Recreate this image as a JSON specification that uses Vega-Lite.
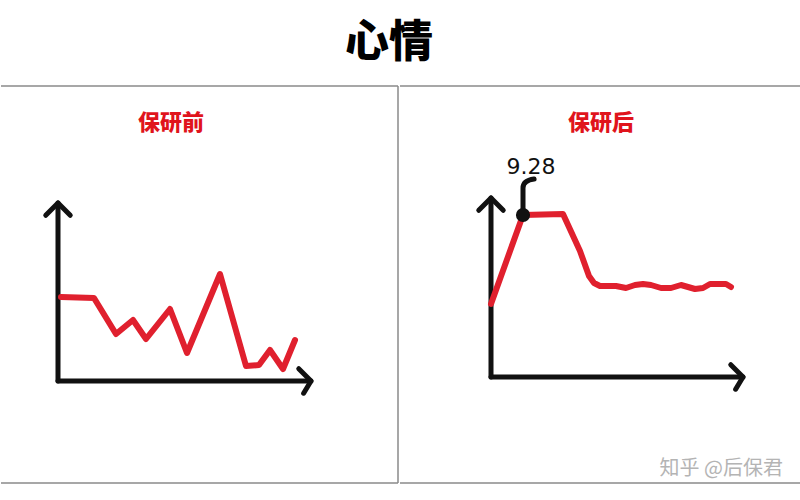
{
  "$schema": "https://vega.github.io/schema/vega-lite/v6.json",
  "background": "white",
  "padding": {"left": 0, "right": 0, "top": 22, "bottom": 0},
  "spacing": 0,
  "config": {"view": {"stroke": null}, "font": "Noto Sans CJK SC"},
  "title": {"text": "心情", "fontSize": 44, "fontWeight": 900, "color": "#000000", "font": "Noto Sans CJK SC", "anchor": "middle", "dx": -13, "offset": 19},
  "data": {"values": [{}]},
  "datasets": {
    "before": [
      {"t": 0.15, "mood": 4.2},
      {"t": 1.8, "mood": 4.15},
      {"t": 2.9, "mood": 2.35},
      {"t": 3.75, "mood": 3.05},
      {"t": 4.4, "mood": 2.1},
      {"t": 5.6, "mood": 3.6},
      {"t": 6.45, "mood": 1.4},
      {"t": 8.1, "mood": 5.35},
      {"t": 9.4, "mood": 0.75},
      {"t": 10.05, "mood": 0.8},
      {"t": 10.6, "mood": 1.55},
      {"t": 11.25, "mood": 0.6},
      {"t": 11.85, "mood": 2.05}
    ],
    "after": [
      {"t": 0, "mood": 3.65},
      {"t": 1.6, "mood": 8.1},
      {"t": 3.6, "mood": 8.15},
      {"t": 4.45, "mood": 6.3},
      {"t": 4.9, "mood": 5.05},
      {"t": 5.15, "mood": 4.7},
      {"t": 5.45, "mood": 4.55},
      {"t": 6.25, "mood": 4.55},
      {"t": 6.75, "mood": 4.45},
      {"t": 7.2, "mood": 4.6},
      {"t": 7.6, "mood": 4.65},
      {"t": 8.0, "mood": 4.6},
      {"t": 8.5, "mood": 4.45},
      {"t": 9.0, "mood": 4.45},
      {"t": 9.5, "mood": 4.6},
      {"t": 9.85, "mood": 4.5},
      {"t": 10.2, "mood": 4.4},
      {"t": 10.6, "mood": 4.45},
      {"t": 10.95, "mood": 4.65},
      {"t": 11.25, "mood": 4.65},
      {"t": 11.75, "mood": 4.65},
      {"t": 12.0, "mood": 4.5}
    ],
    "peak": [
      {"t": 1.6, "mood": 8.1, "label": "9.28"}
    ]
  },
  "hconcat": [
    {
      "width": 397,
      "height": 397,
      "layer": [
        {"mark": {"type": "rule", "color": "#8a8a8a", "strokeWidth": 1.5},
         "encoding": {"y": {"datum": 14.75, "scale": {"domain": [-5.1, 14.75], "nice": false, "zero": false}, "axis": null}}},
        {"mark": {"type": "rule", "color": "#8a8a8a", "strokeWidth": 1.5},
         "encoding": {"y": {"datum": -5.1, "scale": {"domain": [-5.1, 14.75], "nice": false, "zero": false}, "axis": null}}},
        {"mark": {"type": "rule", "color": "#8a8a8a", "strokeWidth": 1.5},
         "encoding": {"x": {"datum": 17.0, "scale": {"domain": [-2.85, 17.0], "nice": false, "zero": false}, "axis": null}}},
        {"mark": {"type": "rule", "color": "#111111", "strokeWidth": 5, "strokeCap": "round"},
         "encoding": {
           "x": {"datum": 0, "scale": {"domain": [-2.85, 17.0], "nice": false, "zero": false}, "axis": null},
           "x2": {"datum": 12.65},
           "y": {"datum": 0, "scale": {"domain": [-5.1, 14.75], "nice": false, "zero": false}, "axis": null}}},
        {"mark": {"type": "rule", "color": "#111111", "strokeWidth": 5, "strokeCap": "round"},
         "encoding": {
           "x": {"datum": 0, "scale": {"domain": [-2.85, 17.0], "nice": false, "zero": false}, "axis": null},
           "y": {"datum": 0, "scale": {"domain": [-5.1, 14.75], "nice": false, "zero": false}, "axis": null},
           "y2": {"datum": 8.9}}},
        {"mark": {"type": "point", "shape": "M -1 -1 L 0 0 L -0.6 1", "filled": false, "stroke": "#111111", "strokeWidth": 5, "strokeCap": "round", "strokeJoin": "round", "size": 600, "opacity": 1},
         "encoding": {
           "x": {"datum": 12.65, "scale": {"domain": [-2.85, 17.0], "nice": false, "zero": false}, "axis": null},
           "y": {"datum": 0, "scale": {"domain": [-5.1, 14.75], "nice": false, "zero": false}, "axis": null}}},
        {"mark": {"type": "point", "shape": "M -1 1 L 0 0 L 1 1", "filled": false, "stroke": "#111111", "strokeWidth": 5, "strokeCap": "round", "strokeJoin": "round", "size": 600, "opacity": 1},
         "encoding": {
           "x": {"datum": 0, "scale": {"domain": [-2.85, 17.0], "nice": false, "zero": false}, "axis": null},
           "y": {"datum": 8.9, "scale": {"domain": [-5.1, 14.75], "nice": false, "zero": false}, "axis": null}}},
        {"data": {"name": "before"},
         "mark": {"type": "line", "color": "#e0202e", "strokeWidth": 6, "strokeCap": "round", "strokeJoin": "round"},
         "encoding": {
           "x": {"field": "t", "type": "quantitative", "scale": {"domain": [-2.85, 17.0], "nice": false, "zero": false}, "axis": null},
           "y": {"field": "mood", "type": "quantitative", "scale": {"domain": [-5.1, 14.75], "nice": false, "zero": false}, "axis": null}}},
        {"mark": {"type": "text", "text": "保研前", "color": "#e0141c", "fontSize": 22, "fontWeight": 900, "font": "Noto Sans CJK SC", "align": "center", "baseline": "middle"},
         "encoding": {
           "x": {"datum": 5.65, "scale": {"domain": [-2.85, 17.0], "nice": false, "zero": false}, "axis": null},
           "y": {"datum": 12.9, "scale": {"domain": [-5.1, 14.75], "nice": false, "zero": false}, "axis": null}}}
      ]
    },
    {
      "width": 403,
      "height": 397,
      "layer": [
        {"mark": {"type": "rule", "color": "#8a8a8a", "strokeWidth": 1.5},
         "encoding": {"y": {"datum": 14.55, "scale": {"domain": [-5.3, 14.55], "nice": false, "zero": false}, "axis": null}}},
        {"mark": {"type": "rule", "color": "#8a8a8a", "strokeWidth": 1.5},
         "encoding": {"y": {"datum": -5.3, "scale": {"domain": [-5.3, 14.55], "nice": false, "zero": false}, "axis": null}}},
        {"mark": {"type": "rule", "color": "#111111", "strokeWidth": 5, "strokeCap": "round"},
         "encoding": {
           "x": {"datum": 0, "scale": {"domain": [-4.55, 15.6], "nice": false, "zero": false}, "axis": null},
           "x2": {"datum": 12.6},
           "y": {"datum": 0, "scale": {"domain": [-5.3, 14.55], "nice": false, "zero": false}, "axis": null}}},
        {"mark": {"type": "rule", "color": "#111111", "strokeWidth": 5, "strokeCap": "round"},
         "encoding": {
           "x": {"datum": 0, "scale": {"domain": [-4.55, 15.6], "nice": false, "zero": false}, "axis": null},
           "y": {"datum": 0, "scale": {"domain": [-5.3, 14.55], "nice": false, "zero": false}, "axis": null},
           "y2": {"datum": 8.95}}},
        {"mark": {"type": "point", "shape": "M -1 -1 L 0 0 L -0.6 1", "filled": false, "stroke": "#111111", "strokeWidth": 5, "strokeCap": "round", "strokeJoin": "round", "size": 600, "opacity": 1},
         "encoding": {
           "x": {"datum": 12.6, "scale": {"domain": [-4.55, 15.6], "nice": false, "zero": false}, "axis": null},
           "y": {"datum": 0, "scale": {"domain": [-5.3, 14.55], "nice": false, "zero": false}, "axis": null}}},
        {"mark": {"type": "point", "shape": "M -1 1 L 0 0 L 1 1", "filled": false, "stroke": "#111111", "strokeWidth": 5, "strokeCap": "round", "strokeJoin": "round", "size": 600, "opacity": 1},
         "encoding": {
           "x": {"datum": 0, "scale": {"domain": [-4.55, 15.6], "nice": false, "zero": false}, "axis": null},
           "y": {"datum": 8.95, "scale": {"domain": [-5.3, 14.55], "nice": false, "zero": false}, "axis": null}}},
        {"data": {"name": "after"},
         "mark": {"type": "line", "color": "#e0202e", "strokeWidth": 6, "strokeCap": "round", "strokeJoin": "round"},
         "encoding": {
           "x": {"field": "t", "type": "quantitative", "scale": {"domain": [-4.55, 15.6], "nice": false, "zero": false}, "axis": null},
           "y": {"field": "mood", "type": "quantitative", "scale": {"domain": [-5.3, 14.55], "nice": false, "zero": false}, "axis": null}}},
        {"data": {"name": "peak"},
         "mark": {"type": "point", "shape": "M 0 0 L 0 -0.9 Q 0 -1.15 0.37 -1.2", "filled": false, "stroke": "#111111", "strokeWidth": 5, "strokeCap": "round", "strokeJoin": "round", "size": 3600, "opacity": 1},
         "encoding": {
           "x": {"field": "t", "type": "quantitative", "scale": {"domain": [-4.55, 15.6], "nice": false, "zero": false}, "axis": null},
           "y": {"field": "mood", "type": "quantitative", "scale": {"domain": [-5.3, 14.55], "nice": false, "zero": false}, "axis": null}}},
        {"data": {"name": "peak"},
         "mark": {"type": "point", "shape": "circle", "filled": true, "color": "#111111", "size": 200, "opacity": 1},
         "encoding": {
           "x": {"field": "t", "type": "quantitative", "scale": {"domain": [-4.55, 15.6], "nice": false, "zero": false}, "axis": null},
           "y": {"field": "mood", "type": "quantitative", "scale": {"domain": [-5.3, 14.55], "nice": false, "zero": false}, "axis": null}}},
        {"data": {"name": "peak"},
         "mark": {"type": "text", "color": "#111111", "fontSize": 22, "font": "DejaVu Sans", "align": "center", "baseline": "middle", "dx": 8, "dy": -48},
         "encoding": {
           "x": {"field": "t", "type": "quantitative", "scale": {"domain": [-4.55, 15.6], "nice": false, "zero": false}, "axis": null},
           "y": {"field": "mood", "type": "quantitative", "scale": {"domain": [-5.3, 14.55], "nice": false, "zero": false}, "axis": null},
           "text": {"field": "label"}}},
        {"mark": {"type": "text", "text": "保研后", "color": "#e0141c", "fontSize": 22, "fontWeight": 900, "font": "Noto Sans CJK SC", "align": "center", "baseline": "middle"},
         "encoding": {
           "x": {"datum": 5.5, "scale": {"domain": [-4.55, 15.6], "nice": false, "zero": false}, "axis": null},
           "y": {"datum": 12.7, "scale": {"domain": [-5.3, 14.55], "nice": false, "zero": false}, "axis": null}}},
        {"mark": {"type": "text", "text": "知乎 @后保君", "color": "#b4b4b4", "fontSize": 20, "font": "Noto Sans CJK SC", "align": "right", "baseline": "bottom", "dx": -20, "dy": -4},
         "encoding": {
           "x": {"datum": 15.6, "scale": {"domain": [-4.55, 15.6], "nice": false, "zero": false}, "axis": null},
           "y": {"datum": -5.3, "scale": {"domain": [-5.3, 14.55], "nice": false, "zero": false}, "axis": null}}}
      ]
    }
  ]
}
